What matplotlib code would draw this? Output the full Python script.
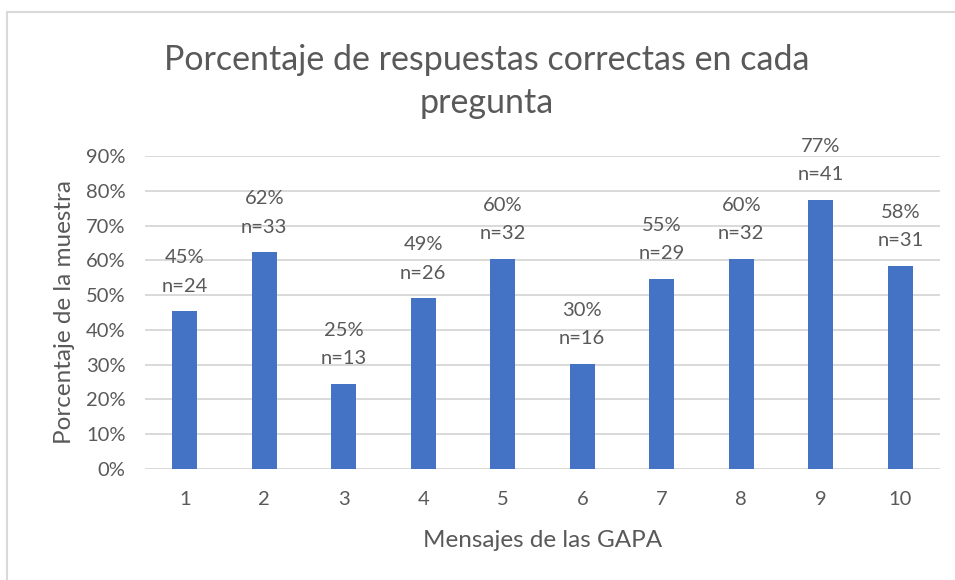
import matplotlib
matplotlib.use('Agg')
import matplotlib.pyplot as plt
from matplotlib.patches import Rectangle

# data
mensajes = ['1', '2', '3', '4', '5', '6', '7', '8', '9', '10']
porcentaje = [45.3, 62.3, 24.5, 49.1, 60.4, 30.2, 54.7, 60.4, 77.4, 58.5]
etiquetas_pct = ['45%', '62%', '25%', '49%', '60%', '30%', '55%', '60%', '77%', '58%']
n_muestra = [24, 33, 13, 26, 32, 16, 29, 32, 41, 31]
y_ticks = [0, 10, 20, 30, 40, 50, 60, 70, 80, 90]

texto = '#595959'
azul = '#4472C4'
gris = '#d9d9d9'
plt.rcParams['font.family'] = ['Lato', 'DejaVu Sans']

fig = plt.figure(figsize=(9.55, 5.8), dpi=100)
ax = fig.add_axes([145 / 955, 1 - 469 / 580, 795 / 955, 313 / 580])

x = list(range(len(mensajes)))
ax.bar(x, porcentaje, width=0.31, color=azul, zorder=3)

for i in x:
    ax.annotate('n=' + str(n_muestra[i]), (x[i], porcentaje[i]), xytext=(0, 18),
                textcoords='offset points', ha='center', va='center',
                fontsize=14.5, color=texto)
    ax.annotate(etiquetas_pct[i], (x[i], porcentaje[i]), xytext=(0, 38.5),
                textcoords='offset points', ha='center', va='center',
                fontsize=14.5, color=texto)

ax.set_xlim(-0.5, len(mensajes) - 0.5)
ax.set_ylim(0, 90)
ax.set_yticks(y_ticks)
ax.set_yticklabels([str(t) + '%' for t in y_ticks])
ax.set_xticks(x)
ax.set_xticklabels(mensajes)
ax.yaxis.grid(True, color=gris, linewidth=1.4, zorder=0)
ax.set_axisbelow(True)
for s in ax.spines.values():
    s.set_visible(False)
ax.tick_params(axis='both', length=0, labelsize=14.5, labelcolor=texto)
ax.tick_params(axis='y', pad=14)
ax.tick_params(axis='x', pad=16)
ax.set_xlabel('Mensajes de las GAPA', fontsize=17.5, color=texto, labelpad=16)
ax.set_ylabel('Porcentaje de la muestra', fontsize=17.5, color=texto, labelpad=8)

fig.text(487 / 955, 1 - 60 / 580, 'Porcentaje de respuestas correctas en cada',
         ha='center', va='center', fontsize=24.5, color=texto)
fig.text(487 / 955, 1 - 103 / 580, 'pregunta',
         ha='center', va='center', fontsize=24.5, color=texto)

# chart frame
fig.patches.append(Rectangle((7 / 955, -0.1), 1.2, 1.1 - 12 / 580,
                             transform=fig.transFigure, fill=False,
                             edgecolor=gris, linewidth=1.5))

fig.savefig('out.png', dpi=100)
